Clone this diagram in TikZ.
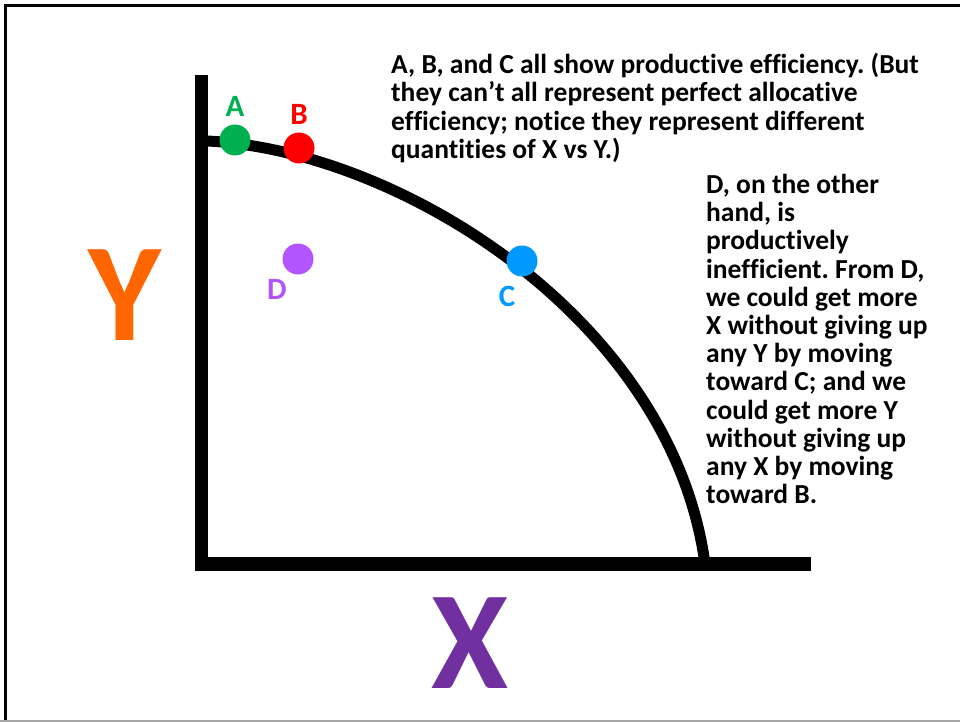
\documentclass[tikz,border=0pt]{standalone}
\usepackage{fontspec}
\setmainfont{Carlito}[Ligatures=NoCommon]
\usepackage{xcolor}
\usetikzlibrary{positioning}
\frenchspacing

\definecolor{ptA}{RGB}{0,176,80}
\definecolor{ptB}{RGB}{255,0,0}
\definecolor{ptC}{RGB}{0,153,255}
\definecolor{ptD}{RGB}{178,84,255}
\definecolor{axisY}{RGB}{255,102,0}
\definecolor{axisX}{RGB}{112,48,160}

\begin{document}
\begin{tikzpicture}[
    x=1pt, y=-1pt,
    axis/.style={line width=13.5pt, line join=miter},
    ppf/.style={line width=11pt},
    dot/.style={circle, inner sep=0pt, minimum size=31pt},
    tag/.style={font=\fontsize{31}{31}\selectfont\bfseries, inner sep=0pt},
    big/.style={font=\fontsize{140}{140}\selectfont\bfseries, inner sep=0pt},
    note/.style={
        font=\fontsize{27.5}{28.2}\selectfont\bfseries,
        align=left, inner sep=0pt, anchor=north west,
    },
]
\useasboundingbox (0,0) rectangle (960,722);

% slide frame
\draw[line width=3pt] (4,5.5) -- (960,5.5);
\draw[line width=3pt] (5.5,4) -- (5.5,722);
\draw[black!35, line width=1.5pt] (0,721) -- (960,721);

% axes and frontier
\coordinate (ytop) at (201.5,75);
\coordinate (origin) at (201.5,564);
\coordinate (xend) at (811,564);
\coordinate (ppfTop) at (207,141);
\coordinate (ppfEnd) at (705,564);

\draw[ppf] (ppfTop) .. controls (400,150) and (672,320) .. (ppfEnd);
\draw[axis] (ytop) -- (origin) -- (xend);

\node[dot, fill=ptA] (a) at (235,140) {};
\node[dot, fill=ptB] (b) at (299,148) {};
\node[dot, fill=ptC] (c) at (522,261) {};
\node[dot, fill=ptD] (d) at (298,259) {};

\node[tag, text=ptA, above=8pt of a] (alabel) {A};
\node[tag, text=ptB, above=8pt of b] (blabel) {B};
\node[tag, text=ptC, below=9pt of c, xshift=-15pt] (clabel) {C};
\node[tag, text=ptD, below=4pt of d, xshift=-21pt] (dlabel) {D};

\node[big, text=axisY, anchor=base] (ylabel) at (125,340) {Y};
\node[big, text=axisX, anchor=base] (xlabel) at (470,688) {X};

\node[note] (effnote) at (391,53)
    {A, B, and C all show productive efficiency. (But\\
     they can’t all represent perfect allocative\\
     efficiency; notice they represent different\\
     quantities of X vs Y.)};
\node[note] (dnote) at (706,174)
    {D, on the other\\
     hand, is\\
     productively\\
     inefficient. From D,\\
     we could get more\\
     X without giving up\\
     any Y by moving\\
     toward C; and we\\
     could get more Y\\
     without giving up\\
     any X by moving\\
     toward B.};

\end{tikzpicture}
\end{document}
